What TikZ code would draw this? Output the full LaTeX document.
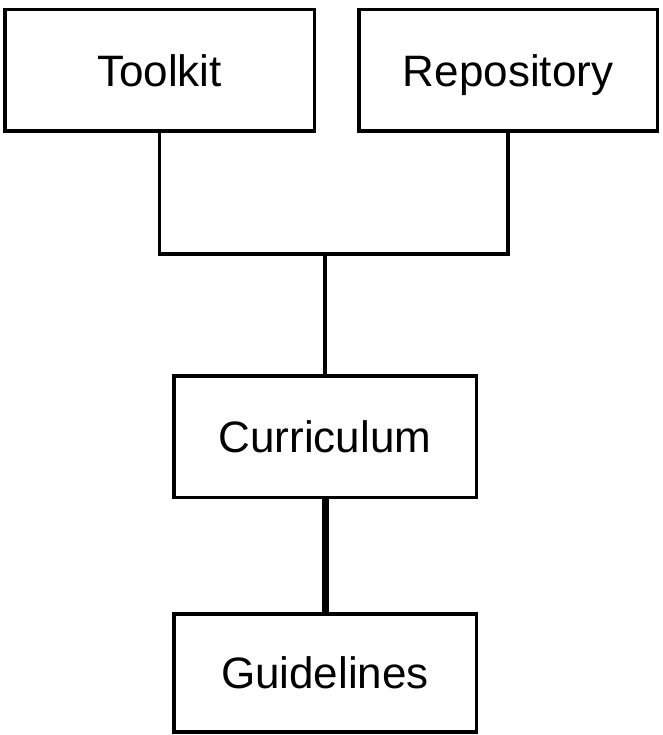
\documentclass[tikz,border=0pt]{standalone}
\usepackage{fontspec}
\setmainfont{Liberation Sans}
\begin{document}
\begin{tikzpicture}[x=1pt,y=-1pt,line width=3.5pt,
    box/.style={shape=rectangle,draw=black,inner sep=0pt,minimum height=121.5pt,
      text height=31.5pt,text depth=0pt,font=\fontsize{44}{50}\selectfont}]
            \useasboundingbox (0,0) rectangle (662,735);
            \node[box,minimum width=309.5pt] (T) at (159.5,70.5) {Toolkit};
            \node[box,minimum width=298.5pt] (R) at (508,70.5) {Repository};
            \node[box,minimum width=302.5pt] (C) at (325,436.5) {Curriculum};
            \node[box,minimum width=302.5pt,minimum height=118pt] (G) at (325,673) {Guidelines};
            \coordinate (J) at (325,254);

            \draw (T.south) -- (T.south |- J) -- (R.south |- J) -- (R.south);
            \path (J) edge (C.north);
            \path (C) edge [line width=7pt] (G);
        \end{tikzpicture}
\end{document}
